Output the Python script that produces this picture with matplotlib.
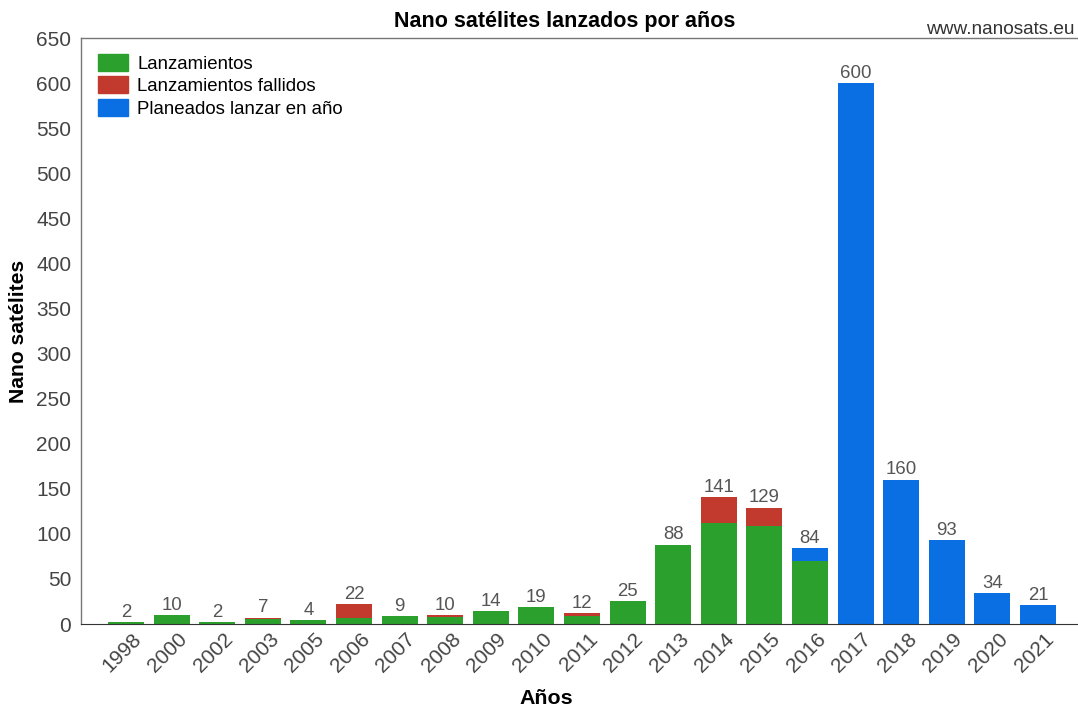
"""Nano satellites launched per year, stacked bars."""
import numpy as np
import matplotlib.pyplot as plt
import matplotlib.transforms as mtransforms
from matplotlib.patches import Patch

plt.rcParams['font.family'] = ['Liberation Sans', 'DejaVu Sans']

years = ['1998', '2000', '2002', '2003', '2005', '2006', '2007', '2008', '2009', '2010',
         '2011', '2012', '2013', '2014', '2015', '2016', '2017', '2018', '2019', '2020', '2021']
launched = [2, 10, 2, 6, 4, 7, 9, 8, 14, 19, 9, 25, 88, 112, 109, 70, 0, 0, 0, 0, 0]
failed = [0, 0, 0, 1, 0, 15, 0, 2, 0, 0, 3, 0, 0, 29, 20, 0, 0, 0, 0, 0, 0]
planned = [0, 0, 0, 0, 0, 0, 0, 0, 0, 0, 0, 0, 0, 0, 0, 14, 600, 160, 93, 34, 21]

green = '#2ca02c'
red = '#c23a2d'
blue = '#0a6fe2'
txt = '#444444'

fig = plt.figure(figsize=(10.78, 7.08), dpi=100)
ax = fig.add_axes([81/1078, 84/708, 997/1078, 586/708])

x = np.arange(len(years))
launched = np.array(launched)
failed = np.array(failed)
planned = np.array(planned)
w = 0.79

ax.bar(x, launched, w, color=green)
ax.bar(x, failed, w, bottom=launched, color=red)
ax.bar(x, planned, w, bottom=launched + failed, color=blue)

totals = launched + failed + planned
for xi, t in zip(x, totals):
    ax.text(xi, t + 1.5, str(t), ha='center', va='bottom', fontsize=13.4, color='#555555')

ax.set_xlim(-0.99, 20.88)
ax.set_ylim(0, 650)
ax.set_yticks(np.arange(0, 651, 50))
ax.set_xticks(x)
ax.set_xticklabels(years, rotation=45, ha='right', rotation_mode='anchor')
ax.tick_params(axis='both', length=0, labelsize=15, colors=txt)
ax.tick_params(axis='x', pad=4)
ax.tick_params(axis='y', pad=7)
# shift the rotated year labels a bit to the right, like the original
shift = mtransforms.ScaledTranslation(6/100, 0, fig.dpi_scale_trans)
for lab in ax.get_xticklabels():
    lab.set_transform(lab.get_transform() + shift)

for s in ['left', 'top']:
    ax.spines[s].set_color('#777777')
    ax.spines[s].set_linewidth(1)
ax.spines['bottom'].set_color('#333333')
ax.spines['right'].set_visible(False)

ax.set_ylabel('Nano satélites', fontsize=15.2, fontweight='bold')
ax.yaxis.set_label_coords(-53/997, 0.5)
ax.set_xlabel('Años', fontsize=15.4, fontweight='bold')
ax.xaxis.set_label_coords((546 - 81)/997, -65/586)
fig.text(565/1078, 1 - 21/708, 'Nano satélites lanzados por años', ha='center', va='center',
         fontsize=15.5, fontweight='bold')
fig.text(1075/1078, 1 - 29/708, 'www.nanosats.eu', ha='right', va='center',
         fontsize=13.7, color='#333333')

handles = [Patch(color=green), Patch(color=red), Patch(color=blue)]
ax.legend(handles, ['Lanzamientos', 'Lanzamientos fallidos', 'Planeados lanzar en año'],
          loc='upper left', bbox_to_anchor=(17/997, 1 - 16/586), frameon=False, fontsize=13.4,
          handlelength=1.6, handleheight=1.0, handletextpad=0.5, labelspacing=0.2,
          borderaxespad=0, borderpad=0)

plt.savefig('out.png', dpi=100)
